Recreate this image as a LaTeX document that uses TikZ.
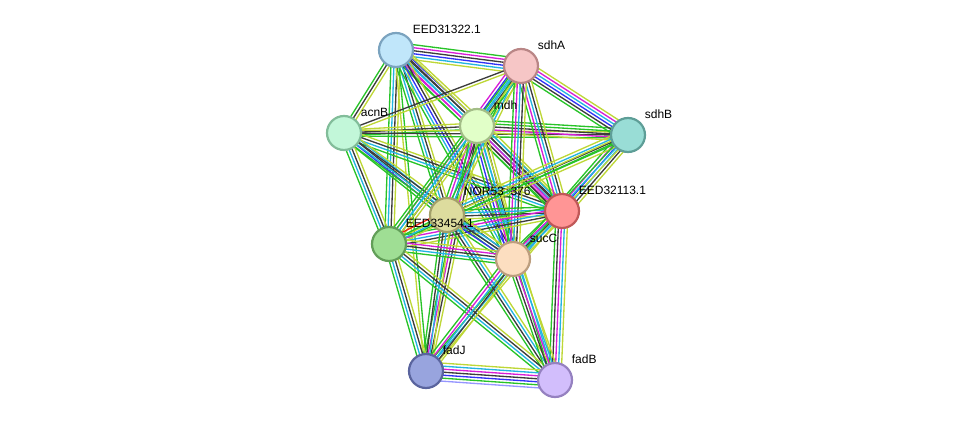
\documentclass[tikz,border=0pt]{standalone}
\usepackage{fontspec}
\setmainfont{Liberation Sans}
\usetikzlibrary{calc}
\pgfdeclarelayer{bg}
\pgfsetlayers{bg,main}

% evidence colours
\definecolor{chgr}{RGB}{40,195,40}
\definecolor{chbl}{RGB}{50,50,245}
\definecolor{chbk}{RGB}{60,60,60}
\definecolor{chmg}{RGB}{215,30,215}
\definecolor{chcy}{RGB}{35,180,225}
\definecolor{chyg}{RGB}{190,215,55}
\definecolor{chpu}{RGB}{150,150,255}
\definecolor{chrd}{RGB}{240,40,20}

% protein colours
\definecolor{fe31}{RGB}{192,230,250}\definecolor{de31}{RGB}{123,163,191}
\definecolor{fsdhA}{RGB}{246,198,198}\definecolor{dsdhA}{RGB}{185,134,134}
\definecolor{facnB}{RGB}{194,247,217}\definecolor{dacnB}{RGB}{130,189,154}
\definecolor{fmdh}{RGB}{225,255,200}\definecolor{dmdh}{RGB}{163,189,135}
\definecolor{fsdhB}{RGB}{153,221,214}\definecolor{dsdhB}{RGB}{94,158,151}
\definecolor{fnor}{RGB}{221,220,158}\definecolor{dnor}{RGB}{163,160,106}
\definecolor{fe32}{RGB}{255,149,149}\definecolor{de32}{RGB}{192,88,88}
\definecolor{fe33}{RGB}{159,222,148}\definecolor{de33}{RGB}{98,158,88}
\definecolor{fsucC}{RGB}{252,222,192}\definecolor{dsucC}{RGB}{188,158,126}
\definecolor{ffadJ}{RGB}{152,164,222}\definecolor{dfadJ}{RGB}{90,100,158}
\definecolor{ffadB}{RGB}{210,190,252}\definecolor{dfadB}{RGB}{149,129,192}

\tikzset{
  prot/.style 2 args={circle, minimum size=25.5pt, inner sep=0pt, fill=#1, draw=#2, line width=1.65pt},
  lbl/.style={inner sep=0pt, label distance=4pt, font=\fontsize{9}{10}\selectfont},
  gr/.style={chgr, line width=1pt},
  bl/.style={chbl, line width=1pt},
  bk/.style={chbk, line width=1pt},
  mg/.style={chmg, line width=1pt},
  cy/.style={chcy, line width=1pt},
  yg/.style={chyg, line width=1pt},
  pu/.style={chpu, line width=1pt},
  rd/.style={chrd, line width=1pt},
}

\newcommand{\linegap}{2.25}
% one bundle of parallel lines between two proteins
\newcommand{\link}[3]{%
  \foreach \c [count=\i] in {#3} {\xdef\nlines{\i}}
  \foreach \c [count=\i] in {#3} {
    \pgfmathsetmacro{\off}{(\i-(\nlines+1)/2)*\linegap}
    \draw[\c] ($(#1.center)!\off pt!90:(#2.center)$) -- ($(#2.center)!\off pt!-90:(#1.center)$);
  }%
}

\begin{document}
\begin{tikzpicture}[x=0.75pt,y=-0.75pt]
    \useasboundingbox (0,0) rectangle (976,425);
    %proteins
    \node[prot={fe31}{de31}, label={[lbl]45:EED31322.1}] (e31) at (396,50) {};
    \node[prot={fsdhA}{dsdhA}, label={[lbl]45:sdhA}] (sdhA) at (521,66) {};
    \node[prot={facnB}{dacnB}, label={[lbl]45:acnB}] (acnB) at (344,133) {};
    \node[prot={fmdh}{dmdh}, label={[lbl]45:mdh}] (mdh) at (477,126) {};
    \node[prot={fsdhB}{dsdhB}, label={[lbl]45:sdhB}] (sdhB) at (628,135) {};
    \node[prot={fnor}{dnor}, label={[lbl]45:NOR53\_376}] (nor) at (447,215) {};
    \node[prot={fe32}{de32}, label={[lbl]45:EED32113.1}] (e32) at (562,211) {};
    \node[prot={fe33}{de33}, label={[lbl]45:EED33454.1}] (e33) at (389,244) {};
    \node[prot={fsucC}{dsucC}, label={[lbl]45:sucC}] (sucC) at (513,259) {};
    \node[prot={ffadJ}{dfadJ}, label={[lbl]45:fadJ}] (fadJ) at (426,371) {};
    \node[prot={ffadB}{dfadB}, label={[lbl]45:fadB}] (fadB) at (555,380) {};

    %evidence lines
    \begin{pgfonlayer}{bg}
    \link{e31}{sdhA}{yg,cy,bl,bk,mg,gr}
    \link{e31}{acnB}{gr,bk,yg}
    \link{e31}{mdh}{gr,mg,cy,bk,bl,yg}
    \link{e31}{e32}{gr,mg,cy,bk,yg}
    \link{e31}{nor}{gr,cy,bk,yg}
    \link{e31}{e33}{gr,cy,bk,yg}
    \link{e31}{sucC}{gr,cy,bl,bk,yg}
    \link{e31}{fadJ}{yg,gr}
    \link{acnB}{sdhA}{yg,bk}
    \link{acnB}{mdh}{gr,bk,yg}
    \link{acnB}{sdhB}{gr,bk,yg}
    \link{acnB}{e32}{gr,cy,bk,yg}
    \link{acnB}{nor}{gr,bl,bk,cy}
    \link{acnB}{e33}{gr,cy,bk,yg}
    \link{acnB}{sucC}{gr,cy,bk,yg}
    \link{mdh}{sdhA}{yg,gr,bk,cy,bl,mg}
    \link{mdh}{sdhB}{yg,mg,bk,gr,gr}
    \link{mdh}{e32}{gr,bk,mg,bk,cy,yg}
    \link{mdh}{nor}{gr,mg,cy,bk,yg}
    \link{mdh}{e33}{gr,mg,cy,bk,yg}
    \link{mdh}{sucC}{gr,bl,mg,cy,bk,yg}
    \link{mdh}{fadJ}{gr,mg,bk,yg}
    \link{mdh}{fadB}{gr,cy,yg}
    \link{sdhA}{sdhB}{gr,bk,bl,cy,mg,yg}
    \link{sdhA}{e32}{gr,mg,cy,bk,yg}
    \link{sdhA}{nor}{gr,cy,yg}
    \link{sdhA}{sucC}{gr,mg,cy,bk,yg}
    \link{sdhA}{e33}{gr,cy,yg}
    \link{sdhB}{e32}{gr,mg,bl,cy,bk,yg}
    \link{sdhB}{nor}{yg,cy,bk,gr,yg}
    \link{sdhB}{e33}{yg,gr}
    \link{sdhB}{sucC}{gr,cy,yg}
    \link{e32}{nor}{gr,cy,bk,yg}
    \link{e32}{e33}{gr,mg,cy,bk,yg}
    \link{e32}{sucC}{gr,mg,bk,cy,yg}
    \link{e32}{fadB}{gr,bk,mg,cy,yg}
    \link{e32}{fadJ}{gr,cy,yg}
    \link{nor}{e33}{rd,gr,cy,yg}
    \link{nor}{sucC}{gr,bl,bk,cy,yg}
    \link{nor}{fadJ}{gr,bk,cy,yg}
    \link{nor}{fadB}{gr,bk,cy,yg}
    \link{e33}{sucC}{gr,cy,bk,mg,yg}
    \link{e33}{fadJ}{gr,cy,bk,yg}
    \link{e33}{fadB}{gr,cy,bk,yg}
    \link{sucC}{fadJ}{gr,mg,cy,bk,yg}
    \link{sucC}{fadB}{gr,bk,mg,cy,yg}
    \link{fadJ}{fadB}{pu,gr,bl,bk,mg,cy,yg}
    \end{pgfonlayer}
\end{tikzpicture}
\end{document}
